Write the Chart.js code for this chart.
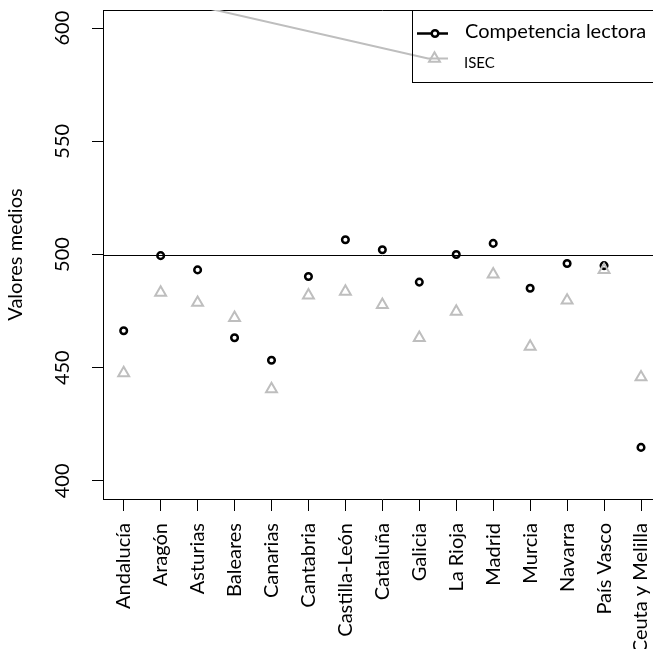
<!DOCTYPE html>
<html>
<head>
<meta charset="utf-8">
<script src="https://cdn.jsdelivr.net/npm/chart.js@4.4.1/dist/chart.umd.min.js"></script>
<style>
  html, body { margin: 0; padding: 0; background: #fff; overflow: hidden; width: 653px; height: 649px; }
  canvas { display: block; }
</style>
</head>
<body>
<!-- the original plot box runs past the right edge of the picture, so the canvas is wider than the window -->
<canvas id="chart" width="670" height="649"></canvas>
<script>
const categorias = ['Andalucía', 'Aragón', 'Asturias', 'Baleares', 'Canarias', 'Cantabria',
  'Castilla-León', 'Cataluña', 'Galicia', 'La Rioja', 'Madrid', 'Murcia', 'Navarra',
  'País Vasco', 'Ceuta y Melilla'];
const competencia = [466.3, 499.5, 493.2, 463.2, 453.3, 490.3, 506.5, 502.1, 487.8, 500.0, 504.9, 485.1, 496.0, 495.1, 414.8];
const isec = [447.6, 483.2, 478.7, 472.0, 440.6, 482.0, 483.6, 477.8, 463.2, 474.8, 491.2, 459.3, 479.7, 493.2, 445.8];
const yTicks = [400, 450, 500, 550, 600];
const referencia = 500;

const FONT = 'Lato, "Open Sans", sans-serif';
const GRIS = '#bebebe';

function puntos(valores) {
  return valores.map((v, i) => ({ x: i + 1, y: v }));
}

// box, rotated y labels, line at 500 and the legend (R style)
const decoracion = {
  id: 'decoracion',
  afterDatasetsDraw(chart) {
    const { ctx, chartArea: a, scales } = chart;
    const y = scales.y;
    ctx.save();
    ctx.strokeStyle = '#000';
    ctx.lineWidth = 1;

    // top and right border
    ctx.beginPath();
    ctx.moveTo(a.left, Math.round(a.top) + 0.5);
    ctx.lineTo(a.right, Math.round(a.top) + 0.5);
    ctx.lineTo(a.right, a.bottom);
    ctx.stroke();

    // reference line
    const yr = Math.round(y.getPixelForValue(referencia)) + 0.5;
    ctx.beginPath();
    ctx.moveTo(a.left, yr);
    ctx.lineTo(a.right, yr);
    ctx.stroke();

    // y tick labels, rotated
    ctx.fillStyle = '#000';
    ctx.font = '20px ' + FONT;
    ctx.textAlign = 'center';
    ctx.textBaseline = 'middle';
    yTicks.forEach(t => {
      ctx.save();
      ctx.translate(a.left - 40, y.getPixelForValue(t));
      ctx.rotate(-Math.PI / 2);
      ctx.fillText(String(t), 0, 0);
      ctx.restore();
    });

    // legend
    const lx = 412.5, ly = a.top + 0.5;
    ctx.fillStyle = '#fff';
    ctx.fillRect(lx, ly, 300, 72);

    // stray ISEC legend segment
    ctx.save();
    ctx.beginPath();
    ctx.rect(a.left, a.top, a.right - a.left, a.bottom - a.top);
    ctx.clip();
    ctx.strokeStyle = GRIS;
    ctx.lineWidth = 2;
    ctx.beginPath();
    ctx.moveTo(200, 6.5);
    ctx.lineTo(428, 58.5);
    ctx.lineTo(448, 58.5);
    ctx.stroke();
    ctx.restore();

    ctx.strokeStyle = '#000';
    ctx.lineWidth = 1;
    ctx.strokeRect(lx, ly, 300, 72);

    ctx.lineWidth = 2.5;
    ctx.beginPath();
    ctx.moveTo(417, 33.5);
    ctx.lineTo(448, 33.5);
    ctx.stroke();
    ctx.beginPath();
    ctx.arc(435, 33.5, 3.3, 0, Math.PI * 2);
    ctx.fillStyle = '#fff';
    ctx.fill();
    ctx.stroke();

    ctx.strokeStyle = GRIS;
    ctx.lineWidth = 2;
    ctx.beginPath();
    const r = 6.3, cx = 434.5, cy = 58.5;
    ctx.moveTo(cx, cy - r);
    ctx.lineTo(cx + r * Math.sin(2 * Math.PI / 3), cy - r * Math.cos(2 * Math.PI / 3));
    ctx.lineTo(cx + r * Math.sin(4 * Math.PI / 3), cy - r * Math.cos(4 * Math.PI / 3));
    ctx.closePath();
    ctx.stroke();

    ctx.fillStyle = '#000';
    ctx.textAlign = 'left';
    ctx.font = '20px ' + FONT;
    ctx.fillText('Competencia lectora', 465, 32);
    ctx.font = '15px ' + FONT;
    ctx.fillText('ISEC', 464, 63);
    ctx.restore();
  }
};

new Chart(document.getElementById('chart'), {
  type: 'scatter',
  data: {
    datasets: [
      {
        label: 'Competencia lectora',
        data: puntos(competencia),
        pointStyle: 'circle',
        pointRadius: 3.3,
        borderWidth: 2.5,
        borderColor: '#000',
        backgroundColor: 'rgba(0,0,0,0)',
        order: 1
      },
      {
        label: 'ISEC',
        data: puntos(isec),
        pointStyle: 'triangle',
        pointRadius: 6.3,
        borderWidth: 2,
        borderColor: GRIS,
        backgroundColor: 'rgba(0,0,0,0)',
        order: 0
      }
    ]
  },
  options: {
    responsive: false,
    animation: false,
    layout: { padding: { top: 10, right: 0, left: 0, bottom: 0 } },
    plugins: {
      legend: { display: false },
      tooltip: { enabled: false }
    },
    scales: {
      x: {
        type: 'linear',
        min: 0.44,
        max: 15.56,
        afterBuildTicks: s => { s.ticks = categorias.map((c, i) => ({ value: i + 1 })); },
        afterFit: s => { s.height = 150; s.paddingLeft = 0; s.paddingRight = 0; },
        ticks: {
          autoSkip: false,
          minRotation: 90,
          maxRotation: 90,
          padding: 12,
          color: '#000',
          font: { family: FONT, size: 20 },
          callback: v => categorias[v - 1]
        },
        grid: { drawOnChartArea: false, drawTicks: true, tickLength: 12, color: '#000', lineWidth: 1 },
        border: { display: true, color: '#000', width: 1 }
      },
      y: {
        min: 392,
        max: 608,
        afterBuildTicks: s => { s.ticks = yTicks.map(v => ({ value: v })); },
        afterFit: s => { s.width = 103; },
        ticks: { display: false },
        grid: { drawOnChartArea: false, drawTicks: true, tickLength: 11, color: '#000', lineWidth: 1 },
        border: { display: true, color: '#000', width: 1 },
        title: {
          display: true,
          text: 'Valores medios',
          color: '#000',
          font: { family: FONT, size: 20 },
          padding: { top: 4, bottom: 4 }
        }
      }
    }
  },
  plugins: [decoracion]
});
</script>
</body>
</html>
